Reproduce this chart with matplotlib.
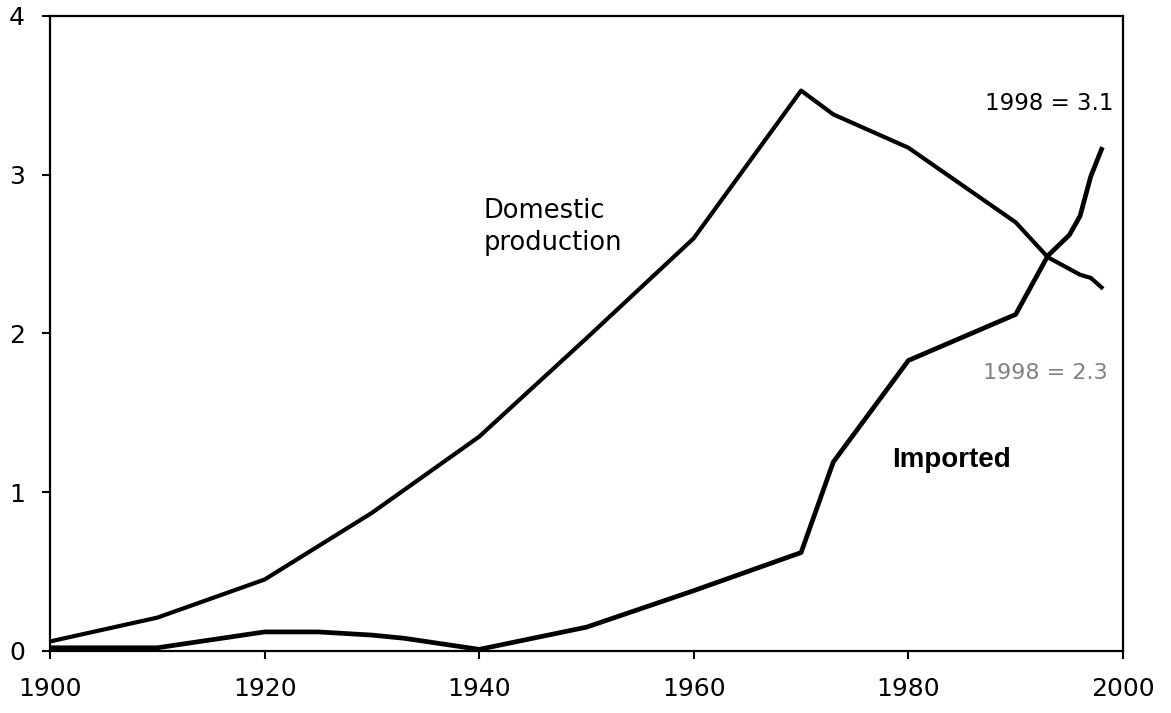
import matplotlib.pyplot as plt

plt.rcParams['font.family'] = ['DejaVu Sans']

# Données
dom_years = [1900, 1910, 1920, 1930, 1940, 1950, 1960, 1970, 1973, 1980, 1990, 1993, 1996, 1997, 1998]
dom_values = [0.06, 0.21, 0.45, 0.87, 1.35, 1.97, 2.60, 3.53, 3.38, 3.17, 2.70, 2.48, 2.37, 2.35, 2.29]

imp_years = [1900, 1910, 1920, 1925, 1930, 1933, 1940, 1950, 1960, 1970, 1973, 1980, 1990, 1993, 1995, 1996, 1997, 1998]
imp_values = [0.02, 0.02, 0.12, 0.12, 0.10, 0.08, 0.01, 0.15, 0.38, 0.62, 1.19, 1.83, 2.12, 2.49, 2.62, 2.74, 2.99, 3.16]

x_ticks = [1900, 1920, 1940, 1960, 1980, 2000]
y_ticks = [0, 1, 2, 3, 4]

fig = plt.figure(figsize=(11.71, 7.13), dpi=100)
ax = fig.add_axes([0.0427, 0.087, 0.9163, 0.8906])

ax.plot(dom_years, dom_values, color='black', lw=3.0, solid_joinstyle='round')
ax.plot(imp_years, imp_values, color='black', lw=3.4, solid_joinstyle='round')

ax.set_xlim(1900, 2000)
ax.set_ylim(0, 4)
ax.set_xticks(x_ticks)
ax.set_yticks(y_ticks)
ax.tick_params(direction='out', length=6, width=1.5, labelsize=18)
ax.tick_params(axis='x', pad=13)
ax.tick_params(axis='y', pad=12)
for s in ax.spines.values():
    s.set_linewidth(1.6)

# Annotations
ax.text(1940.4, 2.67, 'Domestic\nproduction', fontsize=18.5, ha='left', va='center', linespacing=1.3)
ax.text(1978.5, 1.2, 'Imported', fontsize=20, fontweight='bold', ha='left', va='center',
        family='Liberation Sans')
ax.text(1999.1, 3.45, '1998 = 3.1', fontsize=16.5, ha='right', va='center')
ax.text(1998.6, 1.75, '1998 = 2.3', fontsize=16, ha='right', va='center', color='#808080')

fig.savefig('out.png', dpi=100)
